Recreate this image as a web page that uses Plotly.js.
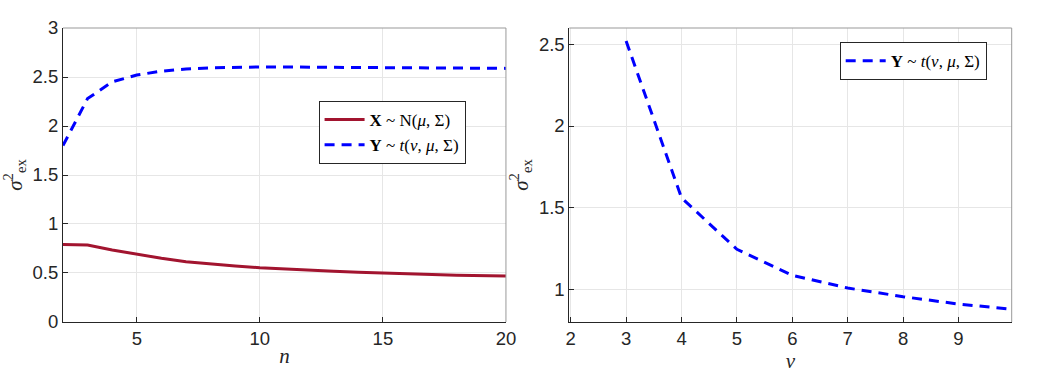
<!DOCTYPE html>
<html>
<head>
<meta charset="utf-8">
<script src="https://cdn.plot.ly/plotly-3.0.1.min.js"></script>
<style>
  body { margin: 0; background: #fff; }
  #plot { width: 1046px; height: 379px; }
</style>
</head>
<body>
<div id="plot"></div>
<script>
// left panel: excess variance against n
var nVals = [2, 3, 4, 5, 6, 7, 8, 9, 10, 11, 12, 13, 14, 15, 16, 17, 18, 19, 20];
var normalVar = [0.79, 0.786, 0.735, 0.69, 0.65, 0.615, 0.592, 0.572, 0.554, 0.54, 0.527, 0.517, 0.507, 0.497, 0.49, 0.484, 0.478, 0.473, 0.469];
var studentVar = [1.8, 2.28, 2.45, 2.52, 2.56, 2.582, 2.594, 2.6, 2.602, 2.602, 2.601, 2.6, 2.599, 2.598, 2.596, 2.594, 2.592, 2.59, 2.588];

// right panel: excess variance against nu
var nuVals = [3, 4, 5, 6, 7, 8, 9, 10];
var studentNu = [2.52, 1.56, 1.245, 1.086, 1.008, 0.955, 0.91, 0.877];

var legX = '<b>X</b> ~ N(<i>μ</i>, Σ)';
var legY = '<b>Y</b> ~ <i>t</i>(<i>ν</i>, <i>μ</i>, Σ)';

var red = '#a2142f';
var blue = '#0000ff';

var traces = [
    {
        x: nVals, y: normalVar, type: 'scatter', mode: 'lines',
        name: legX, line: {color: red, width: 3},
        xaxis: 'x', yaxis: 'y', legend: 'legend'
    },
    {
        x: nVals, y: studentVar, type: 'scatter', mode: 'lines',
        name: legY, line: {color: blue, width: 3, dash: '10px,7px'},
        xaxis: 'x', yaxis: 'y', legend: 'legend'
    },
    {
        x: nuVals, y: studentNu, type: 'scatter', mode: 'lines',
        name: legY, line: {color: blue, width: 3, dash: '10px,7px'},
        xaxis: 'x2', yaxis: 'y2', legend: 'legend2'
    }
];

var tickFont = {family: 'Liberation Sans, Arial, sans-serif', size: 18.5, color: '#262626'};
var titleFont = {family: 'Liberation Serif, Times New Roman, serif', size: 21, color: '#262626'};
var legFont = {family: 'Liberation Serif, Times New Roman, serif', size: 17, color: '#000'};

function axis(extra) {
    var a = {
        showline: true, linecolor: '#262626', linewidth: 1,
        showgrid: true, gridcolor: '#e6e6e6', gridwidth: 1,
        zeroline: false,
        ticks: 'inside', ticklen: 5, tickcolor: '#262626', tickwidth: 1,
        tickfont: tickFont, mirror: false
    };
    for (var k in extra) a[k] = extra[k];
    return a;
}

var yDom = [0.1504, 0.9261];

// top and right border lines (lighter in the original)
function frame(xr, yr) {
    return [
        {type: 'line', xref: xr + ' domain', yref: yr + ' domain', x0: 0, x1: 1, y0: 1, y1: 1,
         line: {color: '#999999', width: 1}},
        {type: 'line', xref: xr + ' domain', yref: yr + ' domain', x0: 1, x1: 1, y0: 0, y1: 1,
         line: {color: '#999999', width: 1}}
    ];
}

var layout = {
    width: 1046,
    height: 379,
    margin: {l: 0, r: 0, t: 0, b: 0},
    paper_bgcolor: '#ffffff',
    plot_bgcolor: '#ffffff',
    showlegend: true,
    xaxis: axis({
        domain: [0.0602, 0.4837], range: [2, 20], tickvals: [5, 10, 15, 20],
        title: {text: '<i>n</i>', font: titleFont, standoff: 0}, anchor: 'y'
    }),
    yaxis: axis({
        domain: yDom, range: [0, 3], dtick: 0.5,
        title: {text: '<i>σ</i><sup>2</sup><sub>ex</sub>', font: titleFont, standoff: 4}, anchor: 'x'
    }),
    xaxis2: axis({
        domain: [0.5443, 0.9672], range: [1.975, 9.96], tickvals: [2, 3, 4, 5, 6, 7, 8, 9],
        title: {text: '<i>ν</i>', font: titleFont, standoff: 0}, anchor: 'y2'
    }),
    yaxis2: axis({
        domain: yDom, range: [0.8, 2.6], tickvals: [1, 1.5, 2, 2.5],
        title: {text: '<i>σ</i><sup>2</sup><sub>ex</sub>', font: titleFont, standoff: 4}, anchor: 'x2'
    }),
    legend: {
        x: 0.4451, y: 0.7335, xanchor: 'right', yanchor: 'top',
        bgcolor: '#ffffff', bordercolor: '#262626', borderwidth: 1,
        font: legFont, tracegroupgap: 0, itemwidth: 40
    },
    legend2: {
        x: 0.9433, y: 0.8884, xanchor: 'right', yanchor: 'top',
        bgcolor: '#ffffff', bordercolor: '#262626', borderwidth: 1,
        font: legFont, itemwidth: 40
    },
    shapes: frame('x', 'y').concat(frame('x2', 'y2'))
};

Plotly.newPlot('plot', traces, layout, {displayModeBar: false, staticPlot: true});
</script>
</body>
</html>
